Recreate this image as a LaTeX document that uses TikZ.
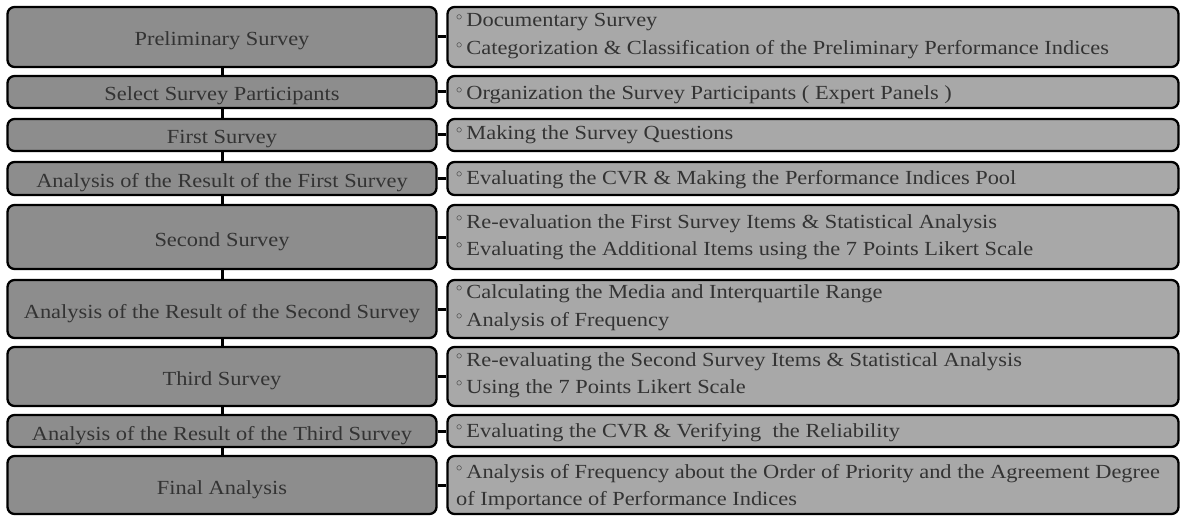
\documentclass[tikz,border=0pt]{standalone}
\usepackage{fontspec}
\setmainfont{Liberation Serif}[FakeStretch=1.12]
\usepackage{graphicx}
\definecolor{lfill}{HTML}{8D8D8D}
\definecolor{rfill}{HTML}{A8A8A8}
\definecolor{txt}{HTML}{333333}
\newcommand\bul{\raisebox{0.34em}{\scalebox{0.6}{$\circ$}}\hspace{4pt}}
\tikzset{
  lbox/.style={draw=black, line width=2.3pt, rounded corners=7pt, fill=lfill,
    minimum width=429pt, inner sep=0pt, text=txt, text height=18pt, text depth=0pt,
    font=\fontsize{20}{24}\selectfont},
  rbox/.style={draw=black, line width=2.3pt, rounded corners=7pt, fill=rfill,
    minimum width=731pt, inner sep=0pt},
  rtext/.style={anchor=base west, inner sep=0pt, text=txt, font=\fontsize{20}{24}\selectfont},
  conn/.style={draw=black, line width=3pt}
}
\begin{document}
\begin{tikzpicture}[x=1pt,y=-1pt]
\useasboundingbox (0,0) rectangle (1181,516);
% vertical connector drawn first (behind boxes)
\coordinate (c1) at (222,37);
\coordinate (c9) at (222,485);
\draw[conn] (c1) -- (c9);
% left boxes
\node[lbox, minimum height=60pt] (L1) at (222,37) {Preliminary Survey};
\node[lbox, minimum height=32pt] (L2) at (222,92) {Select Survey Participants};
\node[lbox, minimum height=32pt] (L3) at (222,135) {First Survey};
\node[lbox, minimum height=33pt] (L4) at (222,178.5) {Analysis of the Result of the First Survey};
\node[lbox, minimum height=64pt] (L5) at (222,237) {Second Survey};
\node[lbox, minimum height=58pt] (L6) at (222,309) {Analysis of the Result of the Second Survey};
\node[lbox, minimum height=59pt] (L7) at (222,376.5) {Third Survey};
\node[lbox, minimum height=32pt] (L8) at (222,431) {Analysis of the Result of the Third Survey};
\node[lbox, minimum height=58pt] (L9) at (222,485) {Final Analysis};
% right boxes
\node[rbox, minimum height=60pt] (R1) at (813,37) {};
\node[rbox, minimum height=32pt] (R2) at (813,92) {};
\node[rbox, minimum height=32pt] (R3) at (813,135) {};
\node[rbox, minimum height=33pt] (R4) at (813,178.5) {};
\node[rbox, minimum height=64pt] (R5) at (813,237) {};
\node[rbox, minimum height=58pt] (R6) at (813,309) {};
\node[rbox, minimum height=59pt] (R7) at (813,376.5) {};
\node[rbox, minimum height=32pt] (R8) at (813,431) {};
\node[rbox, minimum height=58pt] (R9) at (813,485) {};
% horizontal connectors
\foreach \i in {1,...,9} { \draw[conn] (L\i.east) -- (R\i.west); }
% right texts
\node[rtext] (t1a) at (456,27) {\bul Documentary Survey};
\node[rtext] (t1b) at (456,55) {\bul Categorization \& Classification of the Preliminary Performance Indices};
\node[rtext] (t2) at (456,100) {\bul Organization the Survey Participants ( Expert Panels )};
\node[rtext] (t3) at (456,140) {\bul Making the Survey Questions};
\node[rtext] (t4) at (456,184) {\bul Evaluating the CVR \& Making the Performance Indices Pool};
\node[rtext] (t5a) at (456,228) {\bul Re-evaluation the First Survey Items \& Statistical Analysis};
\node[rtext] (t5b) at (456,255) {\bul Evaluating the Additional Items using the 7 Points Likert Scale};
\node[rtext] (t6a) at (456,298) {\bul Calculating the Media and Interquartile Range};
\node[rtext] (t6b) at (456,326) {\bul Analysis of Frequency};
\node[rtext] (t7a) at (456,366) {\bul Re-evaluating the Second Survey Items \& Statistical Analysis};
\node[rtext] (t7b) at (456,393) {\bul Using the 7 Points Likert Scale};
\node[rtext] (t8) at (456,437) {\bul Evaluating the CVR \& Verifying\ \ the Reliability};
\node[rtext] (t9a) at (456,478) {\bul Analysis of Frequency about the Order of Priority and the Agreement Degree};
\node[rtext] (t9b) at (456,505) {of Importance of Performance Indices};
\end{tikzpicture}
\end{document}
